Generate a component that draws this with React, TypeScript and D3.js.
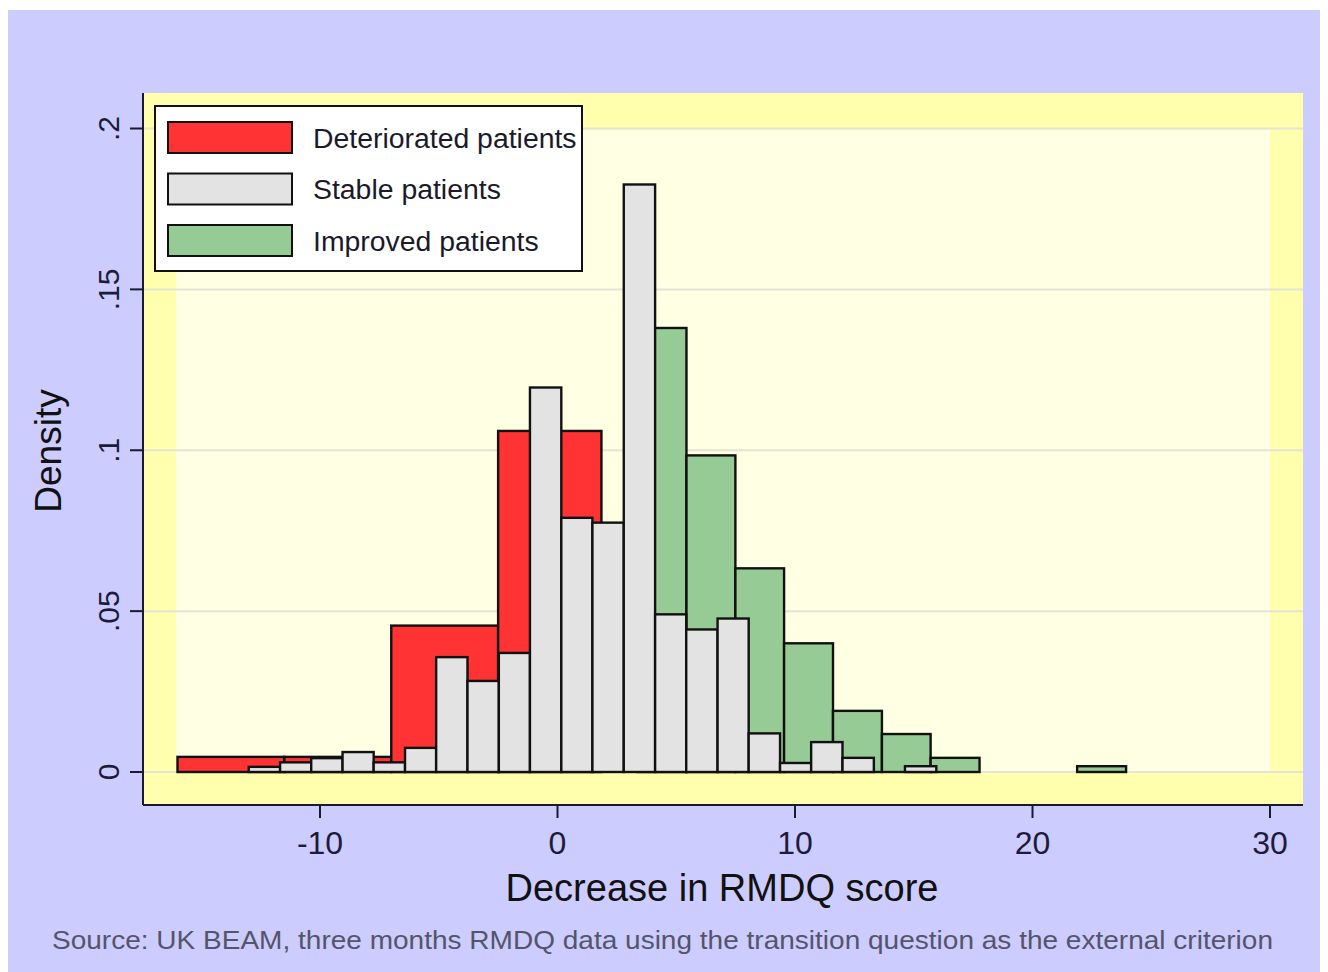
import React from "react";
import * as d3 from "d3";

// histogram bins (bin edges + density of each bin)
const deterioratedEdges = [-16, -11.5, -7, -2.5, 1.85];
const deterioratedDensity = [0.0047, 0.0047, 0.0455, 0.106];

const stableEdges = [
  -13.0, -11.68, -10.37, -9.05, -7.74, -6.42, -5.11, -3.79, -2.47, -1.16, 0.16,
  1.47, 2.79, 4.11, 5.42, 6.74, 8.05, 9.37, 10.68, 12.0, 13.32, 14.63, 15.95,
];
const stableDensity = [
  0.0016, 0.003, 0.0043, 0.0062, 0.003, 0.0075, 0.0357, 0.0283, 0.037, 0.1195,
  0.079, 0.0775, 0.1826, 0.049, 0.0443, 0.0477, 0.012, 0.0028, 0.0093, 0.0044,
  0, 0.0018,
];

const improvedEdges = [3.37, 5.43, 7.49, 9.54, 11.6, 13.66, 15.71, 17.77, 19.83, 21.88, 23.94];
const improvedDensity = [0.138, 0.0984, 0.0633, 0.04, 0.019, 0.0118, 0.0044, 0, 0, 0.0018];

const xTicks = [-10, 0, 10, 20, 30];
const yTicks = [0, 0.05, 0.1, 0.15, 0.2];
const yTickLabels = ["0", ".05", ".1", ".15", ".2"];

const legendLabels = ["Deteriorated patients", "Stable patients", "Improved patients"];
const seriesColors = ["#ff3333", "#e3e3e3", "#96cb96"];

const xTitle = "Decrease in RMDQ score";
const yTitle = "Density";
const note =
  "Source: UK BEAM, three months RMDQ data using the transition question as the external criterion";

const FONT = "'Liberation Sans', Arial, sans-serif";

type Bin = { x0: number; x1: number; d: number };

const toBins = (edges: number[], dens: number[]): Bin[] =>
  dens.map((d, i) => ({ x0: edges[i], x1: edges[i + 1], d })).filter((b) => b.d > 0);

export default function App() {
  // page-pixel layout (svg sits at the 8px body margin, shifted back below)
  const graph = { left: 143, right: 1303, top: 93, bottom: 805 };
  const plot = { left: 176, right: 1270, top: 130, bottom: 772 };

  const x = d3.scaleLinear().domain([-10, 30]).range([320, 1270]);
  const y = d3.scaleLinear().domain([0, 0.2]).range([772, 128.5]);

  const layers: { bins: Bin[]; color: string }[] = [
    { bins: toBins(deterioratedEdges, deterioratedDensity), color: seriesColors[0] },
    { bins: toBins(improvedEdges, improvedDensity), color: seriesColors[2] },
    { bins: toBins(stableEdges, stableDensity), color: seriesColors[1] },
  ];

  const legend = { x: 155, y: 106, w: 427, h: 165 };

  return (
    <svg width={1320} height={964} style={{ display: "block" }}>
      <g transform="translate(-8,-8)">
        <rect x={8} y={10} width={1320} height={962} fill="#ccccff" />
        <rect
          x={graph.left}
          y={graph.top}
          width={graph.right - graph.left}
          height={graph.bottom - graph.top}
          fill="#ffffad"
        />
        <rect
          x={plot.left}
          y={plot.top}
          width={plot.right - plot.left}
          height={plot.bottom - plot.top}
          fill="#ffffe4"
        />

        {/* gridlines */}
        {yTicks.map((t) => (
          <line
            key={"g" + t}
            x1={graph.left}
            x2={graph.right}
            y1={y(t)}
            y2={y(t)}
            stroke="#e4e4d4"
            strokeWidth={2}
          />
        ))}

        {/* bars */}
        {layers.map((layer, li) => (
          <g key={li}>
            {layer.bins.map((b, i) => (
              <rect
                key={i}
                x={x(b.x0)}
                y={y(b.d)}
                width={x(b.x1) - x(b.x0)}
                height={y(0) - y(b.d)}
                fill={layer.color}
                stroke="#111"
                strokeWidth={2.4}
              />
            ))}
          </g>
        ))}

        {/* axes */}
        <line x1={graph.left} x2={graph.left} y1={graph.top} y2={graph.bottom} stroke="#1a1a2a" strokeWidth={2} />
        <line x1={graph.left} x2={graph.right} y1={graph.bottom} y2={graph.bottom} stroke="#1a1a2a" strokeWidth={2} />

        {yTicks.map((t, i) => (
          <g key={"yt" + t}>
            <line x1={graph.left - 13} x2={graph.left} y1={y(t)} y2={y(t)} stroke="#1a1a2a" strokeWidth={2} />
            <text
              transform={`translate(${graph.left - 24},${y(t)}) rotate(-90)`}
              textAnchor="middle"
              fontFamily={FONT}
              fontSize={30}
              fill="#1c1c3a"
            >
              {yTickLabels[i]}
            </text>
          </g>
        ))}

        {xTicks.map((t) => (
          <g key={"xt" + t}>
            <line x1={x(t)} x2={x(t)} y1={graph.bottom} y2={graph.bottom + 13} stroke="#1a1a2a" strokeWidth={2} />
            <text
              x={x(t)}
              y={graph.bottom + 49}
              textAnchor="middle"
              fontFamily={FONT}
              fontSize={32}
              fill="#1c1c3a"
            >
              {t}
            </text>
          </g>
        ))}

        <text x={722} y={901} textAnchor="middle" fontFamily={FONT} fontSize={38} fill="#111">
          {xTitle}
        </text>
        <text
          transform="translate(61,451) rotate(-90)"
          textAnchor="middle"
          fontFamily={FONT}
          fontSize={37}
          fill="#111"
        >
          {yTitle}
        </text>

        <text x={52} y={949} fontFamily={FONT} fontSize={25.5} fill="#55556a" textLength={1221} lengthAdjust="spacingAndGlyphs">
          {note}
        </text>

        {/* legend */}
        <rect x={legend.x} y={legend.y} width={legend.w} height={legend.h} fill="#ffffff" stroke="#111" strokeWidth={2} />
        {legendLabels.map((lab, i) => (
          <g key={lab}>
            <rect
              x={168}
              y={122 + i * 51.5}
              width={124}
              height={31}
              fill={seriesColors[i]}
              stroke="#111"
              strokeWidth={2}
            />
            <text x={313} y={147.5 + i * 51.5} fontFamily={FONT} fontSize={28.4} fill="#1a1a2a">
              {lab}
            </text>
          </g>
        ))}
      </g>
    </svg>
  );
}
